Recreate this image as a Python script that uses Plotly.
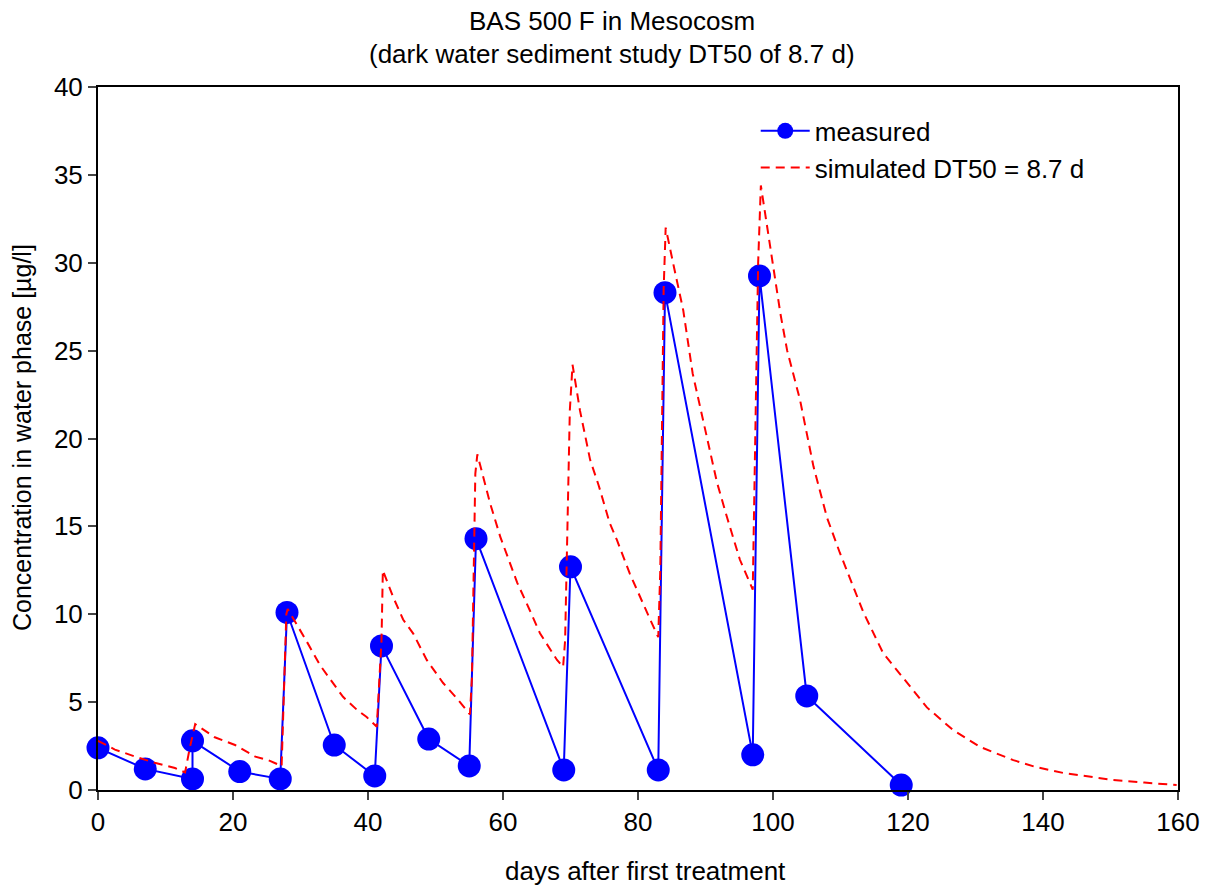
import plotly.graph_objects as go

# measured data
meas_days = [0, 7, 14, 14, 21, 27, 28, 35, 41, 42, 49, 55, 56, 69, 70, 83, 84, 97, 98, 105, 119]
meas_conc = [2.4, 1.2, 0.63, 2.8, 1.05, 0.63, 10.1, 2.56, 0.8, 8.2, 2.9, 1.37, 14.3, 1.14, 12.7, 1.14, 28.3, 2.0, 29.25, 5.35, 0.28]

# simulated data (DT50 = 8.7 d)
sim_days = [0, 2.5, 5.5, 8.4, 11.4, 12.9, 13.6, 14.4,
            17.3, 20.3, 23.3, 25.2, 27.0, 27.2, 27.9, 28.1,
            31.0, 32.9, 34.4, 36.3, 38.4, 39.8, 41.3, 41.6, 42.0, 42.2,
            43.7, 45.2, 46.7, 48.7, 51.1, 53.2, 55.1, 55.4, 55.6, 55.9, 56.2,
            58.1, 59.6, 62.1, 64.0, 65.5, 68.0, 68.9, 69.2, 69.6, 69.9, 70.3,
            71.4, 72.9, 74.2, 75.8, 76.9, 78.8, 79.8, 81.8, 83.0, 83.3, 83.8, 84.1,
            85.3, 86.7, 88.1, 89.6, 91.7, 93.2, 95.1, 97.0, 97.5, 97.8, 98.2,
            100.0, 101.1, 102.1, 104.0, 106.0, 108.0, 109.9, 112.4, 113.4, 116.3,
            119.8, 122.8, 126.7, 130.7, 135.6, 139.0, 143.0, 147.0, 150.4, 155.0, 159.8]
sim_conc = [2.8, 2.3, 1.9, 1.55, 1.25, 1.0, 2.4, 3.75,
            3.0, 2.56, 1.9, 1.7, 1.4, 1.35, 10.0, 10.3,
            8.4, 7.1, 6.3, 5.3, 4.55, 4.15, 3.6, 5.5, 8.5, 12.5,
            11.0, 9.7, 8.9, 7.4, 6.1, 5.2, 4.3, 6.4, 12.3, 18.0, 19.1,
            16.3, 14.4, 11.8, 10.2, 8.9, 7.4, 7.0, 8.5, 17.2, 21.6, 24.2,
            21.6, 18.8, 17.3, 15.2, 14.2, 12.3, 11.4, 9.7, 8.7, 12.5, 28.5, 32.0,
            29.8, 27.3, 23.7, 21.1, 17.5, 15.5, 13.1, 11.4, 22.0, 30.0, 34.4,
            29.7, 27.1, 25.0, 22.2, 18.4, 15.5, 13.5, 11.0, 10.1, 7.8,
            6.1, 4.7, 3.4, 2.45, 1.7, 1.3, 0.97, 0.75, 0.57, 0.42, 0.28]

x_ticks = [0, 20, 40, 60, 80, 100, 120, 140, 160]
y_ticks = [0, 5, 10, 15, 20, 25, 30, 35, 40]

title_lines = ["BAS 500 F in Mesocosm", "(dark water sediment study DT50 of 8.7 d)"]
x_title = "days after first treatment"
y_title = "Concentration in water phase [µg/l]"

FONT = "Liberation Sans, Arial, sans-serif"

fig = go.Figure()
fig.add_trace(go.Scatter(
    x=meas_days, y=meas_conc, mode="lines+markers", name="measured",
    line=dict(color="#0000FF", width=2),
    marker=dict(color="#0000FF", size=23, line=dict(width=0)),
    cliponaxis=False,
))
fig.add_trace(go.Scatter(
    x=sim_days, y=sim_conc, mode="lines", name="simulated DT50 = 8.7 d",
    line=dict(color="#FF0000", width=2, dash="9px,6px"),
))

fig.update_layout(
    width=1206, height=885,
    margin=dict(l=98, r=28, t=87, b=95, autoexpand=False),
    paper_bgcolor="white", plot_bgcolor="white",
    font=dict(family=FONT, size=26, color="black"),
    showlegend=True,
    legend=dict(x=0.609, y=0.971, xanchor="left", yanchor="top",
                bgcolor="rgba(0,0,0,0)", font=dict(size=26, family=FONT),
                itemwidth=49, tracegroupgap=0),
    annotations=[
        dict(text=title_lines[0], x=(612 - 98) / 1080, xref="paper", xanchor="center",
             y=(790 - 21) / 703, yref="paper", yanchor="middle",
             showarrow=False, font=dict(size=26, family=FONT)),
        dict(text=title_lines[1], x=(612 - 98) / 1080, xref="paper", xanchor="center",
             y=(790 - 54) / 703, yref="paper", yanchor="middle",
             showarrow=False, font=dict(size=26, family=FONT)),
        dict(text=x_title, x=(645 - 98) / 1080, xref="paper", xanchor="center",
             y=(790 - 871) / 703, yref="paper", yanchor="middle",
             showarrow=False, font=dict(size=26, family=FONT)),
        dict(text=y_title, x=(22 - 98) / 1080, xref="paper", xanchor="center",
             y=(790 - 438) / 703, yref="paper", yanchor="middle", textangle=-90,
             showarrow=False, font=dict(size=25, family=FONT)),
    ],
)

fig.update_xaxes(
    range=[0, 160], tickvals=x_ticks, ticks="outside", ticklen=8, tickwidth=2,
    showline=True, linewidth=2, linecolor="black", mirror=True,
    showgrid=False, zeroline=False, automargin=False,
    tickfont=dict(size=26),
)
fig.update_yaxes(
    range=[0, 40], tickvals=y_ticks, ticks="outside", ticklen=8, tickwidth=2,
    showline=True, linewidth=2, linecolor="black", mirror=True,
    showgrid=False, zeroline=False, automargin=False,
    tickfont=dict(size=26),
)

fig.write_html("out.html", config={"displayModeBar": False},
               post_script="document.body.style.margin='0';")
